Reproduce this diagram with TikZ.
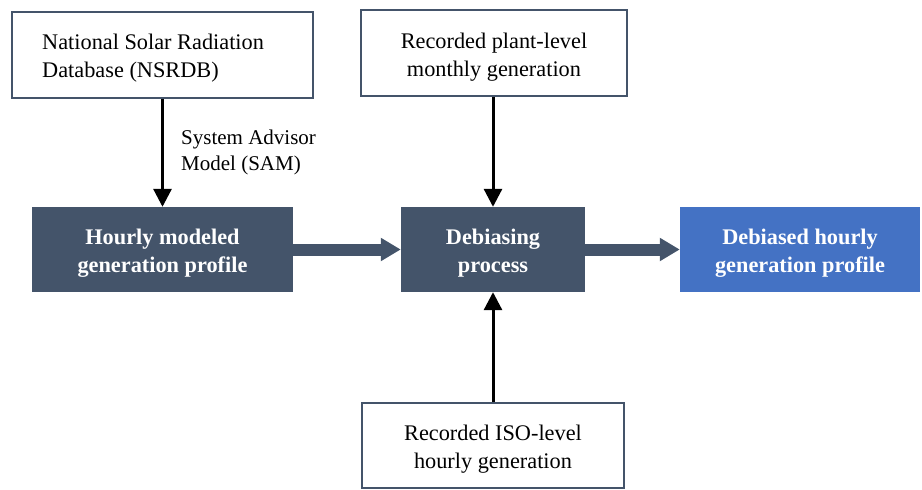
\documentclass[tikz,border=0pt]{standalone}
\usepackage{fontspec}
\setmainfont{Liberation Serif}
\usetikzlibrary{arrows.meta}
\definecolor{darkbox}{HTML}{44546A}
\definecolor{bluebox}{HTML}{4472C4}
\begin{document}
\begin{tikzpicture}[x=1pt,y=-1pt,
  whitebox/.style={draw=darkbox,line width=2pt,fill=white,inner sep=0pt},
  darkbx/.style={fill=darkbox,inner sep=0pt},
  bluebx/.style={fill=bluebox,inner sep=0pt},
  boxtext/.style={align=center,inner sep=0pt,yshift=-4pt,
    font=\fontsize{22.3}{28}\selectfont},
  boldtext/.style={boxtext,text=white,font=\fontsize{22.3}{28}\selectfont\bfseries},
  blackarrow/.style={line width=3pt,-{Triangle[length=18pt,width=18pt]}},
  blockarrow/.style={draw=darkbox,line width=12pt,-{Triangle[length=20pt,width=22pt]}},
  lbl/.style={align=left,inner sep=0pt,font=\fontsize{21}{26}\selectfont}
]
\useasboundingbox (0,0) rectangle (922,490);
\node[whitebox,minimum width=301pt,minimum height=86pt] (nsrdb) at (162.5,54.5) {};
\node[boxtext,align=left,anchor=west] (nsrdbt) at ([xshift=31pt]nsrdb.west)
  {National Solar Radiation\\Database (NSRDB)};
\node[whitebox,minimum width=266pt,minimum height=86pt] (plant) at (494,53) {};
\node[boxtext] (plantt) at (plant.center) {Recorded plant-level\\monthly generation};
\node[whitebox,minimum width=262pt,minimum height=85pt] (iso) at (493,445.5) {};
\node[boxtext] (isot) at (iso.center) {Recorded ISO-level\\hourly generation};
\node[darkbx,minimum width=261pt,minimum height=85pt] (hourly) at (162.5,249.5) {};
\node[boldtext] (hourlyt) at (hourly.center) {Hourly modeled\\generation profile};
\node[darkbx,minimum width=184pt,minimum height=85pt] (debias) at (493,249.5) {};
\node[boldtext] (debiast) at (debias.center) {Debiasing\\process};
\node[bluebx,minimum width=240pt,minimum height=85pt] (out) at (800,249.5) {};
\node[boldtext] (outt) at (out.center) {Debiased hourly\\generation profile};
\node[lbl,anchor=west] (sam) at (181,152.5) {System Advisor\\Model (SAM)};
\draw[blackarrow] (nsrdb.south) -- (hourly.north);
\draw[blackarrow] (plant.south -| debias.north) -- (debias.north);
\draw[blackarrow] (iso.north) -- (debias.south);
\draw[blockarrow] (hourly.east) -- (debias.west);
\draw[blockarrow] (debias.east) -- (out.west);
\end{tikzpicture}
\end{document}
